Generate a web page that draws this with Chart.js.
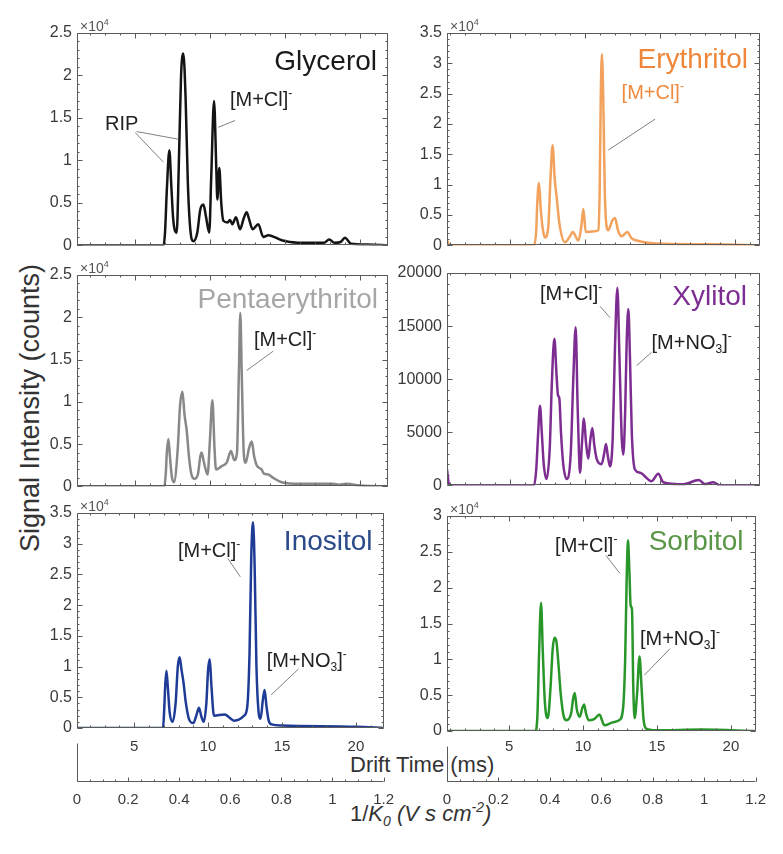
<!DOCTYPE html>
<html>
<head>
<meta charset="utf-8">
<script src="https://cdn.jsdelivr.net/npm/chart.js@4.4.0/dist/chart.umd.min.js"></script>
<style>
  body { margin: 0; background: #fff; width: 783px; height: 854px; position: relative; overflow: hidden;
         font-family: 'Liberation Sans', Arial, sans-serif; }
  canvas { position: absolute; }
  .lbl { position: absolute; white-space: nowrap; color: #333; font-size: 22px; line-height: 22px; }
  .lbl sub, .lbl sup { font-size: 14px; line-height: 0; }
  .lbl sub { vertical-align: -5px; }
  .lbl sup { vertical-align: 9px; }
  #ylab { left: 30px; top: 408px; font-size: 27px; line-height: 27px; transform: translate(-50%, -50%) rotate(-90deg); }
  #xlab1 { left: 350px; top: 754px; }
  #xlab2 { left: 350px; top: 803px; }
</style>
</head>
<body>
<div class="lbl" id="ylab">Signal Intensity (counts)</div>
<div class="lbl" id="xlab1">Drift Time (ms)</div>
<div class="lbl" id="xlab2">1/<i>K<sub>0</sub> (V s cm<sup>-2</sup>)</i></div>
<script>
// ==================== DATA ====================
// drift time (ms) / signal (counts)
var glycerolTime = [1.13, 6.9, 7.0, 7.12, 7.29, 7.42, 7.55, 7.78, 7.92, 8.07,
  8.22, 8.37, 8.52, 8.68, 8.89, 9.15, 9.35, 9.56, 9.72, 9.95,
  10.08, 10.27, 10.42, 10.49, 10.62, 10.75, 10.89, 11.18, 11.33, 11.49,
  11.73, 12.0, 12.25, 12.44, 12.62, 12.84, 13.22, 13.55, 13.89, 14.78,
  15.33, 16.5, 17.6, 17.95, 18.3, 18.7, 19.0, 19.4, 20.5, 21.87];
var glycerolSignal = [0, 0, 1500, 6500, 11200, 7000, 3000, 1500, 9500, 20000,
  22600, 17500, 7500, 2000, 500, 1500, 4200, 4800, 3500, 1500,
  8000, 17000, 9000, 5400, 9100, 5000, 2900, 2700, 3000, 2500,
  3300, 1900, 3200, 3900, 3000, 1900, 2500, 1000, 1200, 600,
  400, 300, 300, 700, 300, 400, 900, 200, 100, 0];

var erythritolTime = [0.8, 0.95, 6.6, 6.75, 6.82, 6.93, 7.05, 7.2, 7.33, 7.55,
  7.7, 7.84, 7.98, 8.11, 8.3, 8.67, 9.0, 9.18, 9.56, 9.75,
  9.89, 10.05, 10.5, 10.9, 10.98, 11.05, 11.13, 11.22, 11.32, 11.45,
  11.56, 11.8, 12.0, 12.2, 12.44, 12.82, 13.1, 13.44, 14.78, 17,
  18.5, 21.67];
var erythritolSignal = [1000, 0, 0, 2500, 7000, 10300, 6000, 2500, 1300, 3000,
  11000, 16500, 11000, 8000, 3500, 500, 1500, 2200, 800, 3000,
  6000, 2200, 2300, 2500, 9000, 24000, 31500, 24000, 9000, 3000,
  2500, 4000, 4500, 2500, 1500, 2200, 1200, 800, 300, 200,
  200, 0];

var pentaTime = [1.13, 6.95, 7.05, 7.12, 7.22, 7.33, 7.45, 7.6, 7.85, 8.0,
  8.16, 8.3, 8.44, 8.6, 8.75, 8.96, 9.2, 9.35, 9.44, 9.6,
  9.84, 9.98, 10.16, 10.3, 10.4, 10.78, 11.11, 11.4, 11.62, 11.8,
  11.92, 12.02, 12.12, 12.25, 12.38, 12.6, 12.78, 12.95, 13.11, 13.44,
  13.6, 13.89, 14.22, 14.78, 16, 18.2, 18.6, 19.1, 20, 21.87];
var pentaSignal = [0, 0, 1500, 4000, 5600, 3500, 1200, 500, 4500, 9500,
  11200, 8500, 6700, 3500, 1500, 900, 1500, 3500, 4000, 2800,
  1400, 5000, 10200, 4500, 2000, 2400, 2800, 4200, 3100, 4000,
  13000, 20500, 13000, 4000, 2800, 4500, 5300, 3500, 2500, 2000,
  1500, 1400, 1000, 500, 300, 300, 200, 300, 100, 0];

var xylitolTime = [0.8, 0.95, 6.6, 6.75, 6.88, 7.0, 7.12, 7.25, 7.44, 7.65,
  7.8, 7.96, 8.1, 8.2, 8.29, 8.4, 8.55, 8.78, 9.05, 9.22,
  9.38, 9.5, 9.6, 9.67, 9.8, 9.93, 10.07, 10.22, 10.35, 10.49,
  10.62, 10.78, 11.11, 11.28, 11.4, 11.52, 11.67, 11.85, 12.0, 12.16,
  12.3, 12.45, 12.56, 12.68, 12.78, 12.89, 13.0, 13.12, 13.33, 13.67,
  14.44, 14.89, 15.22, 16.5, 17.6, 18.0, 18.55, 19.0, 21.67];
var xylitolSignal = [1500, 0, 0, 1500, 5000, 7500, 5000, 2000, 600, 3500,
  10000, 13800, 10500, 8500, 8200, 5000, 2000, 600, 3000, 10000,
  14900, 8000, 3000, 1200, 4000, 6300, 4000, 2500, 4200, 5400,
  3800, 2500, 2000, 3000, 3900, 2800, 1800, 4500, 13000, 18600,
  12000, 4500, 2900, 7000, 13500, 16600, 12000, 5000, 1500, 1200,
  400, 1100, 300, 100, 500, 100, 300, 0, 0];

var inositolTime = [1.13, 6.95, 7.02, 7.1, 7.18, 7.28, 7.4, 7.6, 7.8, 7.95,
  8.07, 8.2, 8.33, 8.5, 8.7, 9.0, 9.2, 9.38, 9.55, 9.71,
  9.88, 10.0, 10.11, 10.22, 10.4, 11.11, 11.78, 12.44, 12.65, 12.8,
  12.92, 13.04, 13.15, 13.27, 13.4, 13.55, 13.7, 13.82, 13.95, 14.1,
  14.3, 15, 20, 21.87];
var inositolSignal = [0, 0, 2500, 7000, 9300, 6500, 2500, 1000, 4000, 10000,
  11500, 9500, 7500, 4000, 1500, 800, 2000, 3300, 1800, 1000,
  4000, 9500, 11200, 7000, 2000, 2200, 1200, 2000, 3500, 12000,
  28000, 33500, 26000, 10000, 3000, 1500, 4500, 6200, 3500, 1200,
  600, 400, 200, 0];

var sorbitolTime = [0.8, 6.8, 6.92, 7.03, 7.16, 7.28, 7.42, 7.62, 7.8, 7.95,
  8.07, 8.2, 8.35, 8.5, 8.7, 8.89, 9.2, 9.33, 9.44, 9.58,
  9.78, 9.95, 10.07, 10.2, 10.38, 10.78, 11.11, 11.44, 12.0, 12.44,
  12.7, 12.85, 12.95, 13.04, 13.14, 13.22, 13.31, 13.4, 13.49, 13.65,
  13.82, 13.96, 14.1, 14.3, 15, 18, 21.67];
var sorbitolSignal = [0, 0, 2500, 11000, 17900, 11000, 4000, 1800, 6000, 11500,
  13000, 12500, 9000, 5000, 2000, 1500, 2500, 4500, 5300, 3000,
  2000, 3200, 3700, 2500, 1500, 1700, 2300, 800, 1200, 1500,
  3000, 10000, 21000, 26600, 22000, 17500, 17000, 6000, 1800, 5000,
  10400, 6000, 1500, 300, 100, 200, 0];

// tick labels
var ticks20k = [0, 5000, 10000, 15000, 20000];
var ticks25k = [0, 5000, 10000, 15000, 20000, 25000];
var ticks30k = [0, 5000, 10000, 15000, 20000, 25000, 30000];
var ticks35k = [0, 5000, 10000, 15000, 20000, 25000, 30000, 35000];
var driftTicks = [5, 10, 15, 20];
var k0Ticks = [0, 0.2, 0.4, 0.6, 0.8, 1, 1.2];

// ==================== LAYOUT ====================
var FONT = "'Liberation Sans', Arial, sans-serif";
var PAD_L = 70, PAD_T = 24, PAD_R = 16, PAD_B = 12;
var K0_LINE_Y = 781, DRIFT_LABEL_Y = 747, K0_AXIS_H = 45;
var FRAME = '#5a5a5a';

var MCL  = [{ t: '[M+Cl]' }, { t: '-', sup: true }];
var MNO3 = [{ t: '[M+NO' }, { t: '3', sub: true }, { t: ']' }, { t: '-', sup: true }];
var RIP  = [{ t: 'RIP' }];

var panels = [
  { time: glycerolTime, signal: glycerolSignal, line: '#141414', title: 'Glycerol', titleColor: '#1a1a1a',
    box: [77, 33, 388, 248], xRange: [1.13, 21.87], yTicks: ticks25k, sci: true, inset: [11, 37],
    notes: [{ parts: RIP, t: 3.0, v: 13600 }, { parts: MCL, t: 11.33, v: 16400 }],
    leaders: [[5.0, 13300, 6.89, 9800], [5.1, 13400, 7.89, 12500], [11.67, 14700, 10.55, 13900]] },
  { time: erythritolTime, signal: erythritolSignal, line: '#f2a25c', title: 'Erythritol', titleColor: '#ee873a',
    box: [447, 33, 760, 248], xRange: [0.8, 21.67], yTicks: ticks35k, sci: true, inset: [12, 35], noteColor: '#ee8a40',
    notes: [{ parts: MCL, t: 12.44, v: 24100 }],
    leaders: [[14.67, 20800, 11.55, 15700]] },
  { time: pentaTime, signal: pentaSignal, line: '#888888', title: 'Pentaerythritol', titleColor: '#a6a6a6',
    box: [77, 275, 388, 489], xRange: [1.13, 21.87], yTicks: ticks25k, sci: true, inset: [10, 33],
    notes: [{ parts: MCL, t: 12.93, v: 16600 }],
    leaders: [[14.22, 16000, 12.44, 13700]] },
  { time: xylitolTime, signal: xylitolSignal, line: '#7d2d91', title: 'Xylitol', titleColor: '#7d2d91',
    box: [447, 273, 760, 488], xRange: [0.8, 21.67], yTicks: ticks20k, sci: false, inset: [13, 32],
    notes: [{ parts: MCL, t: 7.0, v: 17490 }, { parts: MNO3, t: 14.44, v: 12840 }],
    leaders: [[11.0, 16870, 11.67, 15790], [14.44, 12530, 13.44, 11280]] },
  { time: inositolTime, signal: inositolSignal, line: '#1e3c96', title: 'Inositol', titleColor: '#2b4a8a',
    box: [77, 513, 388, 728], xRange: [1.13, 21.87], yTicks: ticks35k, sci: true, inset: [11, 37], bottom: true,
    notes: [{ parts: MCL, t: 7.96, v: 27900 }, { parts: MNO3, t: 13.96, v: 10000 }],
    leaders: [[11.33, 27600, 12.18, 24600], [16.11, 9600, 14.27, 5400]] },
  { time: sorbitolTime, signal: sorbitolSignal, line: '#299629', title: 'Sorbitol', titleColor: '#5a9646',
    box: [447, 516, 760, 731], xRange: [0.8, 21.67], yTicks: ticks30k, sci: true, inset: [12, 34], bottom: true,
    notes: [{ parts: MCL, t: 8.11, v: 25000 }, { parts: MNO3, t: 13.85, v: 12000 }],
    leaders: [[11.55, 24500, 12.49, 22000], [15.89, 11500, 14.15, 7800]] }
];

// ==================== HELPERS ====================
function setTicks(values) {
  return function (scale) {
    scale.ticks = values.map(function (v) { return { value: v }; });
  };
}

function drawRich(ctx, parts, x, y, size, color) {
  ctx.fillStyle = color;
  ctx.textAlign = 'left';
  ctx.textBaseline = 'alphabetic';
  parts.forEach(function (p) {
    var s = (p.sup || p.sub) ? Math.round(size * 0.62) : size;
    var dy = p.sup ? -size * 0.45 : (p.sub ? size * 0.22 : 0);
    ctx.font = s + 'px ' + FONT;
    ctx.fillText(p.t, x, y + dy);
    x += ctx.measureText(p.t).width;
  });
}

function seg(ctx, x1, y1, x2, y2) {
  ctx.moveTo(x1, y1);
  ctx.lineTo(x2, y2);
}

// minor tick values between the scale limits
function minorValues(min, max, step) {
  var out = [];
  for (var v = Math.ceil(min / step) * step; v <= max + 1e-9; v += step) out.push(v);
  return out;
}

// ==================== PLUGIN ====================
// MATLAB style box, inward ticks, x10^4 mark, panel name and peak notes
var panelDecor = {
  id: 'panelDecor',
  afterDraw: function (chart, args, o) {
    var ctx = chart.ctx, a = chart.chartArea;
    var xs = chart.scales.x, ys = chart.scales.y;
    var L = Math.round(a.left) + 0.5, T = Math.round(a.top) + 0.5;
    var R = Math.round(a.right) - 0.5, B = Math.round(a.bottom) - 0.5;
    ctx.save();
    ctx.setLineDash([]);
    ctx.globalAlpha = 1;
    ctx.strokeStyle = FRAME;
    ctx.lineWidth = 1;

    ctx.beginPath();
    seg(ctx, L, T, R, T);
    seg(ctx, R, T, R, B);
    seg(ctx, R, B, L, B);
    seg(ctx, L, B, L, T);
    minorValues(xs.min, xs.max, 1).forEach(function (v) {
      var px = Math.round(xs.getPixelForValue(v)) + 0.5;
      seg(ctx, px, B, px, B - 2);
      seg(ctx, px, T, px, T + 2);
    });
    minorValues(0, ys.max, 1000).forEach(function (v) {
      var py = Math.round(ys.getPixelForValue(v)) + 0.5;
      seg(ctx, L, py, L + 2, py);
      seg(ctx, R, py, R - 2, py);
    });
    xs.ticks.forEach(function (t) {
      var px = Math.round(xs.getPixelForValue(t.value)) + 0.5;
      seg(ctx, px, B, px, B - 5);
      seg(ctx, px, T, px, T + 5);
    });
    ys.ticks.forEach(function (t) {
      var py = Math.round(ys.getPixelForValue(t.value)) + 0.5;
      seg(ctx, L, py, L + 5, py);
      seg(ctx, R, py, R - 5, py);
    });
    ctx.stroke();

    if (o.sci) {
      drawRich(ctx, [{ t: '×10' }, { t: '4', sup: true }], a.left + 3, a.top - 2, 14, '#555');
    }

    ctx.font = '28px ' + FONT;
    ctx.textAlign = 'right';
    ctx.textBaseline = 'alphabetic';
    ctx.fillStyle = o.titleColor;
    ctx.fillText(o.title, a.right - o.inset[0], a.top + o.inset[1]);

    ctx.strokeStyle = '#808080';
    ctx.beginPath();
    o.leaders.forEach(function (l) {
      seg(ctx, xs.getPixelForValue(l[0]), ys.getPixelForValue(l[1]),
        xs.getPixelForValue(l[2]), ys.getPixelForValue(l[3]));
    });
    ctx.stroke();
    o.notes.forEach(function (n) {
      drawRich(ctx, n.parts, xs.getPixelForValue(n.t), ys.getPixelForValue(n.v), 20, o.noteColor || '#222');
    });

    // 1/K0 axis: baseline, short left spine and inward ticks
    var k = chart.scales.x2;
    if (k) {
      var ky = Math.round(k.top) + 0.5, kx = Math.round(k.left) + 0.5;
      var kr = Math.round(k.right) - 0.5;
      ctx.strokeStyle = FRAME;
      ctx.beginPath();
      seg(ctx, kx, ky, kr, ky);
      seg(ctx, kx, ky, kx, B + 16);
      minorValues(0, 1.2, 0.05).forEach(function (v) {
        var px = Math.round(k.getPixelForValue(v)) + 0.5;
        seg(ctx, px, ky, px, ky - 2);
      });
      k.ticks.forEach(function (t) {
        var px = Math.round(k.getPixelForValue(t.value)) + 0.5;
        seg(ctx, px, ky, px, ky - 4);
      });
      ctx.stroke();
    }
    ctx.restore();
  }
};

// ==================== CHARTS ====================
function buildPanel(p) {
  var plotW = p.box[2] - p.box[0], plotH = p.box[3] - p.box[1];
  var gap = K0_LINE_Y - p.box[3];
  var cv = document.createElement('canvas');
  cv.width = PAD_L + plotW + PAD_R;
  cv.height = PAD_T + plotH + (p.bottom ? gap + K0_AXIS_H : PAD_B);
  cv.style.left = (p.box[0] - PAD_L) + 'px';
  cv.style.top = (p.box[1] - PAD_T) + 'px';
  document.body.appendChild(cv);

  var pts = p.time.map(function (t, i) { return { x: t, y: p.signal[i] }; });
  var noGrid = { display: false, drawTicks: false, tickLength: 0 };

  var scales = {
    x: {
      type: 'linear', position: 'bottom', min: p.xRange[0], max: p.xRange[1],
      afterBuildTicks: setTicks(driftTicks),
      ticks: { display: !!p.bottom, padding: DRIFT_LABEL_Y - p.box[3] - 9, color: '#3a3a3a', font: { size: 15 } },
      grid: noGrid, border: { display: false },
      afterFit: function (s) { s.height = p.bottom ? gap : 0; }
    },
    y: {
      type: 'linear', min: 0, max: p.yTicks[p.yTicks.length - 1],
      afterBuildTicks: setTicks(p.yTicks),
      ticks: {
        padding: 5, color: '#3a3a3a', font: { size: 16 },
        callback: function (v) { return p.sci ? String(v / 10000) : String(v); }
      },
      grid: noGrid, border: { display: false },
      afterFit: function (s) { s.width = PAD_L; }
    }
  };
  if (p.bottom) {
    scales.x2 = {
      type: 'linear', position: 'bottom', weight: 1, min: 0, max: 1.2,
      afterBuildTicks: setTicks(k0Ticks),
      ticks: { padding: 10, color: '#3a3a3a', font: { size: 15 },
               callback: function (v) { return String(+v.toFixed(1)); } },
      grid: noGrid, border: { display: false },
      afterFit: function (s) { s.height = K0_AXIS_H; }
    };
  }

  return new Chart(cv.getContext('2d'), {
    type: 'line',
    data: {
      datasets: [{
        data: pts, borderColor: p.line, borderWidth: 2.5, pointRadius: 0,
        cubicInterpolationMode: 'monotone', fill: false
      }]
    },
    options: {
      responsive: false, animation: false, parsing: false,
      layout: { padding: { left: 0, top: PAD_T, right: PAD_R, bottom: p.bottom ? 0 : PAD_B } },
      scales: scales,
      plugins: {
        legend: { display: false }, tooltip: { enabled: false },
        panelDecor: {
          sci: p.sci, title: p.title, titleColor: p.titleColor, inset: p.inset,
          notes: p.notes, leaders: p.leaders, noteColor: p.noteColor
        }
      }
    },
    plugins: [panelDecor]
  });
}

function init() {
  Chart.defaults.font.family = FONT;
  panels.forEach(buildPanel);
}

init();
</script>
</body>
</html>
